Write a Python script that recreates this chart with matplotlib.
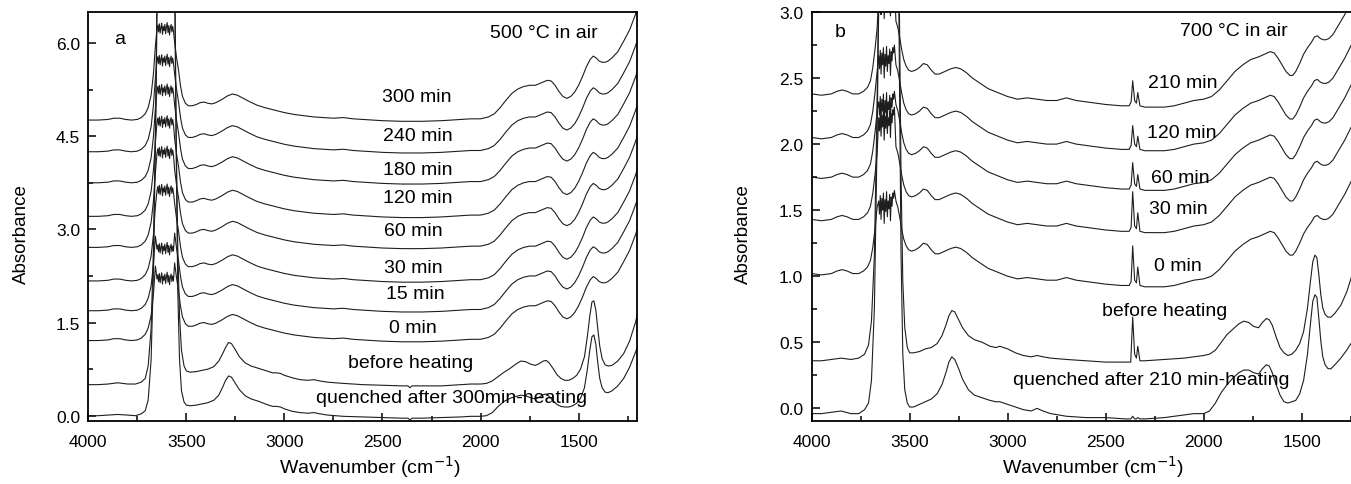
import numpy as np
import matplotlib
matplotlib.use('Agg')
import matplotlib.pyplot as plt
from matplotlib.ticker import MultipleLocator, FormatStrFormatter

plt.rcParams['font.family'] = ['Liberation Sans', 'DejaVu Sans']

# ---------------- panel a : 500 C in air ----------------
a_labels = ['300 min', '240 min', '180 min', '120 min', '60 min', '30 min', '15 min', '0 min']
a_offsets = [4.76, 4.25, 3.75, 3.21, 2.71, 2.17, 1.69, 1.21]
a_plateau = [6.22, 5.71, 5.23, 4.72, 4.23, 3.62, 2.68, 2.20]
a_label_pos = [(2327, 5.14), (2318, 4.51), (2318, 3.96), (2318, 3.52), (2344, 2.98),
               (2344, 2.39), (2335, 1.96), (2344, 1.42)]

# heated spectra (relative to their own baseline)
a_left_wn = [4000, 3950, 3900, 3870, 3840, 3810, 3780, 3750, 3730, 3710, 3695, 3680, 3668, 3658]
a_left = [0.0, 0.0, 0.01, 0.03, 0.03, 0.01, 0.0, 0.01, 0.04, 0.1, 0.2, 0.4, 0.75, 1.2]
a_band_wn = [3650, 3646, 3642, 3638, 3634, 3630, 3626, 3622, 3618, 3614, 3610,
             3606, 3602, 3598, 3594, 3590, 3586, 3582, 3578, 3574, 3570, 3566]
a_ripple = [0.00, 0.07, -0.04, 0.09, -0.06, 0.03, 0.10, -0.08, 0.05, -0.02, 0.08,
            -0.07, 0.04, 0.11, -0.05, 0.06, -0.09, 0.03, 0.08, -0.04, 0.05, -0.03]
a_right_wn = [3560, 3550, 3540, 3530, 3520, 3505, 3490, 3470, 3450, 3430, 3410, 3390,
              3370, 3350, 3320, 3290, 3265, 3240, 3210, 3180, 3140, 3100, 3050, 3000,
              2950, 2900, 2850, 2800, 2750, 2700, 2650, 2600, 2500, 2400, 2300, 2200,
              2100, 2050, 2000, 1960, 1930, 1900, 1870, 1840, 1810, 1780, 1750, 1720,
              1690, 1660, 1640, 1620, 1600, 1580, 1560, 1540, 1520, 1500, 1480, 1460,
              1440, 1425, 1410, 1395, 1380, 1365, 1350, 1330, 1300, 1270, 1240, 1210, 1195]
a_right = [1.25, 1.0, 0.8, 0.55, 0.38, 0.27, 0.23, 0.23, 0.25, 0.28, 0.29, 0.27,
           0.26, 0.28, 0.33, 0.39, 0.42, 0.40, 0.35, 0.30, 0.24, 0.20, 0.16, 0.12,
           0.09, 0.07, 0.05, 0.04, 0.03, 0.04, 0.02, 0.01, -0.01, -0.02, -0.02, -0.01,
           0.01, 0.02, 0.02, 0.05, 0.10, 0.20, 0.32, 0.43, 0.50, 0.54, 0.56, 0.56,
           0.60, 0.64, 0.63, 0.56, 0.46, 0.38, 0.35, 0.38, 0.45, 0.56, 0.70, 0.86,
           0.98, 1.03, 1.00, 0.95, 0.93, 0.93, 0.95, 1.00, 1.10, 1.27, 1.45, 1.70, 1.85]

# before heating / quenched (relative to own baseline)
a_ref_wn = [4000, 3950, 3900, 3850, 3800, 3760, 3730, 3710, 3695, 3680, 3668, 3656, 3648,
            3560, 3552, 3544, 3535, 3525, 3512, 3500, 3480, 3450, 3420, 3390, 3360, 3335,
            3315, 3300, 3285, 3270, 3250, 3230, 3200, 3170, 3130, 3090, 3060, 3040, 3020,
            3000, 2960, 2920, 2880, 2850, 2820, 2780, 2700, 2600, 2500, 2400, 2370, 2360,
            2350, 2300, 2200, 2100, 2050, 2000, 1970, 1940, 1910, 1880, 1850, 1820, 1795,
            1770, 1745, 1720, 1700, 1680, 1665, 1650, 1630, 1610, 1590, 1570, 1550, 1530,
            1510, 1490, 1470, 1455, 1443, 1432, 1422, 1412, 1402, 1392, 1380, 1365, 1350,
            1330, 1300, 1270, 1240, 1210, 1195]
a_before = [0.0, 0.0, 0.01, 0.03, 0.01, 0.01, 0.04, 0.1, 0.3, 0.9, 2.2, 4.5, 7.0,
            7.0, 4.0, 2.2, 1.1, 0.55, 0.3, 0.22, 0.2, 0.21, 0.23, 0.25, 0.29, 0.38,
            0.5, 0.6, 0.68, 0.66, 0.56, 0.45, 0.35, 0.3, 0.26, 0.22, 0.19, 0.19, 0.18,
            0.15, 0.11, 0.08, 0.07, 0.08, 0.06, 0.04, 0.02, 0.0, -0.01, -0.02, -0.02, -0.05,
            -0.02, -0.02, -0.02, 0.0, 0.01, 0.01, 0.02, 0.06, 0.13, 0.2, 0.26, 0.33, 0.38,
            0.37, 0.33, 0.31, 0.34, 0.38, 0.39, 0.35, 0.26, 0.16, 0.1, 0.07, 0.07, 0.1,
            0.15, 0.25, 0.45, 0.78, 1.1, 1.33, 1.35, 1.2, 0.9, 0.62, 0.42, 0.32, 0.3,
            0.31, 0.38, 0.5, 0.7, 1.0, 1.2]
a_quench = [0.0, 0.0, 0.01, 0.02, 0.01, 0.0, 0.03, 0.08, 0.25, 0.9, 2.3, 4.8, 7.0,
            7.0, 4.2, 2.0, 0.9, 0.4, 0.22, 0.17, 0.16, 0.17, 0.19, 0.21, 0.25, 0.33,
            0.46, 0.57, 0.64, 0.62, 0.52, 0.42, 0.32, 0.27, 0.23, 0.18, 0.15, 0.15, 0.14,
            0.11, 0.07, 0.05, 0.04, 0.05, 0.03, 0.01, -0.01, -0.02, -0.03, -0.04, -0.04, -0.07,
            -0.04, -0.04, -0.03, -0.02, -0.01, -0.01, 0.0, 0.05, 0.15, 0.23, 0.28, 0.31, 0.33,
            0.32, 0.29, 0.27, 0.3, 0.34, 0.35, 0.31, 0.24, 0.18, 0.15, 0.14, 0.14, 0.16,
            0.2, 0.28, 0.45, 0.75, 1.05, 1.27, 1.3, 1.15, 0.85, 0.6, 0.45, 0.38, 0.37,
            0.4, 0.48, 0.6, 0.78, 1.02, 1.15]
a_before_offset = 0.50
a_quench_offset = 0.0

# ---------------- panel b : 700 C in air ----------------
b_labels = ['210 min', '120 min', '60 min', '30 min', '0 min']
b_offsets = [2.38, 2.05, 1.75, 1.43, 1.02]
b_plateau = [3.10, 2.65, 2.30, 2.18, 1.55]
b_co2 = [0.19, 0.18, 0.20, 0.30, 0.30]
b_co2_side = [0.06, 0.06, 0.07, 0.10, 0.10]
b_label_pos = [(2105, 2.47), (2110, 2.09), (2121, 1.75), (2130, 1.51), (2130, 1.08)]

b_left_wn = [4000, 3950, 3900, 3870, 3845, 3820, 3790, 3760, 3735, 3715, 3700, 3688, 3676, 3666]
b_left = [0.0, -0.01, 0.0, 0.02, 0.03, 0.02, 0.0, 0.0, 0.02, 0.05, 0.1, 0.2, 0.35, 0.5]
b_band_wn = [3658, 3654, 3650, 3646, 3642, 3638, 3634, 3630, 3626, 3622, 3618,
             3614, 3610, 3606, 3602, 3598, 3594, 3590, 3586, 3582, 3578]
b_ripple = [0.02, -0.08, 0.06, -0.12, 0.04, -0.05, 0.08, -0.15, 0.03, -0.06, 0.09,
            -0.10, 0.02, -0.04, 0.07, -0.13, 0.05, -0.02, 0.08, 0.04, 0.10]
b_right_wn = [3570, 3560, 3550, 3540, 3530, 3518, 3505, 3490, 3470, 3450, 3430, 3410,
              3390, 3370, 3350, 3320, 3290, 3265, 3240, 3210, 3180, 3140, 3100, 3050,
              3000, 2950, 2900, 2850, 2800, 2750, 2700, 2650, 2600, 2500, 2420, 2380,
              2370, 2362, 2352, 2343, 2336, 2325, 2300, 2250, 2200, 2150, 2100, 2050,
              2000, 1960, 1920, 1880, 1840, 1800, 1760, 1720, 1690, 1660, 1640, 1620,
              1600, 1580, 1560, 1545, 1530, 1510, 1490, 1470, 1450, 1435, 1420, 1405,
              1390, 1375, 1360, 1340, 1320, 1300, 1280, 1260, 1240]
b_right = [0.55, 0.5, 0.42, 0.33, 0.26, 0.21, 0.18, 0.17, 0.18, 0.2, 0.23, 0.22,
           0.18, 0.15, 0.15, 0.17, 0.19, 0.2, 0.19, 0.16, 0.12, 0.08, 0.04, 0.01,
           -0.02, -0.04, -0.03, -0.04, -0.05, -0.05, -0.03, -0.05, -0.06, -0.08, -0.09, -0.09,
           -0.06, -0.09, -0.05, -0.07, -0.05, -0.09, -0.1, -0.1, -0.1, -0.09, -0.07, -0.05,
           -0.04, -0.02, 0.03, 0.1, 0.17, 0.22, 0.26, 0.28, 0.3, 0.32, 0.31, 0.27,
           0.22, 0.17, 0.14, 0.14, 0.17, 0.23, 0.3, 0.35, 0.39, 0.43, 0.44, 0.42,
           0.41, 0.41, 0.42, 0.45, 0.5, 0.55, 0.6, 0.66, 0.72]

b_ref_wn = [4000, 3950, 3900, 3850, 3800, 3760, 3730, 3710, 3695, 3680, 3668, 3656, 3648,
            3560, 3552, 3544, 3535, 3525, 3512, 3500, 3480, 3450, 3420, 3390, 3360, 3335,
            3315, 3300, 3285, 3270, 3250, 3230, 3200, 3170, 3130, 3090, 3060, 3040, 3020,
            3000, 2960, 2920, 2880, 2850, 2820, 2780, 2700, 2600, 2500, 2400, 2372, 2362,
            2352, 2343, 2336, 2325, 2300, 2200, 2100, 2050, 2000, 1970, 1940, 1910, 1880,
            1850, 1820, 1795, 1770, 1745, 1720, 1700, 1680, 1665, 1650, 1630, 1610, 1590,
            1570, 1550, 1530, 1510, 1490, 1470, 1455, 1443, 1432, 1422, 1412, 1402, 1392,
            1380, 1365, 1350, 1330, 1300, 1270, 1240]
b_before = [0.0, 0.0, 0.01, 0.02, 0.01, 0.02, 0.05, 0.12, 0.3, 0.8, 1.8, 3.0, 4.0,
            4.0, 2.6, 1.4, 0.6, 0.25, 0.1, 0.06, 0.06, 0.07, 0.09, 0.1, 0.13, 0.19,
            0.27, 0.34, 0.38, 0.37, 0.31, 0.25, 0.19, 0.16, 0.14, 0.11, 0.1, 0.11, 0.1,
            0.09, 0.06, 0.04, 0.03, 0.04, 0.03, 0.02, 0.01, 0.0, -0.01, -0.01, -0.01, 0.33,
            0.05, 0.02, 0.11, 0.0, 0.0, 0.01, 0.02, 0.03, 0.04, 0.05, 0.08, 0.14, 0.2,
            0.24, 0.28, 0.3, 0.29, 0.26, 0.25, 0.29, 0.32, 0.31, 0.27, 0.18, 0.1, 0.06,
            0.04, 0.05, 0.08, 0.13, 0.22, 0.4, 0.6, 0.75, 0.8, 0.78, 0.65, 0.5, 0.4,
            0.35, 0.33, 0.33, 0.36, 0.42, 0.52, 0.66]
b_quench = [0.0, 0.0, 0.01, 0.02, 0.0, 0.0, 0.03, 0.08, 0.25, 0.8, 1.9, 3.3, 4.0,
            4.0, 2.5, 1.2, 0.45, 0.18, 0.08, 0.05, 0.05, 0.07, 0.09, 0.11, 0.15, 0.22,
            0.31, 0.39, 0.43, 0.41, 0.34, 0.26, 0.18, 0.14, 0.12, 0.1, 0.09, 0.09, 0.08,
            0.07, 0.05, 0.03, 0.02, 0.04, 0.02, 0.0, -0.02, -0.03, -0.03, -0.04, -0.04, -0.02,
            -0.04, -0.04, -0.03, -0.04, -0.04, -0.03, -0.01, 0.0, 0.0, 0.02, 0.08, 0.16, 0.22,
            0.27, 0.31, 0.33, 0.33, 0.31, 0.3, 0.34, 0.37, 0.36, 0.31, 0.22, 0.14, 0.09,
            0.08, 0.09, 0.1, 0.15, 0.25, 0.45, 0.68, 0.85, 0.9, 0.88, 0.72, 0.55, 0.43,
            0.37, 0.34, 0.34, 0.37, 0.42, 0.48, 0.55]
b_before_offset = 0.36
b_quench_offset = -0.04

LINE = '#1e1e1e'
FS_TICK = 12.5
FS_TXT = 14


def heated(left_wn, left, band_wn, ripple, right_wn, right, offset, plateau):
    wn = list(left_wn) + list(band_wn) + list(right_wn)
    y = [offset + v for v in left] + [plateau + r for r in ripple] + [offset + v for v in right]
    return wn, y


def style_axes(ax, xlim, ylim, ymajor, yminor):
    ax.set_xlim(*xlim)
    ax.set_ylim(*ylim)
    ax.xaxis.set_major_locator(MultipleLocator(500))
    ax.xaxis.set_minor_locator(MultipleLocator(250))
    ax.yaxis.set_major_locator(MultipleLocator(ymajor))
    ax.yaxis.set_minor_locator(MultipleLocator(yminor))
    ax.yaxis.set_major_formatter(FormatStrFormatter('%.1f'))
    ax.tick_params(which='both', direction='in', top=False, right=False,
                   width=1.1, labelsize=FS_TICK)
    ax.tick_params(which='major', length=6)
    ax.tick_params(which='minor', length=3.5)
    ax.tick_params(axis='x', pad=9)
    ax.tick_params(axis='y', pad=6)
    for s in ax.spines.values():
        s.set_linewidth(1.3)
    ax.set_xlabel('Wavenumber (cm$^{-1}$)', fontsize=14)
    ax.set_ylabel('Absorbance', fontsize=13.5)


fig = plt.figure(figsize=(13.51, 4.85), dpi=100)
ax_a = fig.add_axes([0.0654, 0.1293, 0.4064, 0.8439])
ax_b = fig.add_axes([0.6008, 0.1293, 0.3992, 0.8439])

# panel a
for off, plat in zip(a_offsets, a_plateau):
    wn, y = heated(a_left_wn, a_left, a_band_wn, a_ripple, a_right_wn, a_right, off, plat)
    ax_a.plot(wn, y, color=LINE, lw=0.8)
ax_a.plot(a_ref_wn, [a_before_offset + v for v in a_before], color=LINE, lw=0.8)
ax_a.plot(a_ref_wn, [a_quench_offset + v for v in a_quench], color=LINE, lw=0.8)

style_axes(ax_a, (4000, 1200), (-0.09, 6.5), 1.5, 0.75)
ax_a.xaxis.set_label_coords(0.513, -0.078)
ax_a.yaxis.set_label_coords(-0.106, 0.46)

for lab, (x, y) in zip(a_labels, a_label_pos):
    ax_a.text(x, y, lab, fontsize=FS_TXT, ha='center', va='center')
ax_a.text(2354, 0.86, 'before heating', fontsize=FS_TXT, ha='center', va='center')
ax_a.text(2150, 0.30, 'quenched after 300min-heating', fontsize=FS_TXT, ha='center', va='center')
ax_a.text(3838, 6.08, 'a', fontsize=FS_TXT, ha='center', va='center')
ax_a.text(1679, 6.17, '500 °C in air', fontsize=FS_TXT, ha='center', va='center')

# panel b
for off, plat, c1, c2 in zip(b_offsets, b_plateau, b_co2, b_co2_side):
    wn, y = heated(b_left_wn, b_left, b_band_wn, b_ripple, b_right_wn, b_right, off, plat)
    i1 = wn.index(2362)
    i2 = wn.index(2336)
    y[i1] += c1
    y[i2] += c2
    ax_b.plot(wn, y, color=LINE, lw=0.8)
ax_b.plot(b_ref_wn, [b_before_offset + v for v in b_before], color=LINE, lw=0.8)
ax_b.plot(b_ref_wn, [b_quench_offset + v for v in b_quench], color=LINE, lw=0.8)

style_axes(ax_b, (4000, 1248), (-0.098, 3.0), 0.5, 0.25)
ax_b.spines['right'].set_visible(False)
ax_b.xaxis.set_label_coords(0.522, -0.078)
ax_b.yaxis.set_label_coords(-0.111, 0.46)

for lab, (x, y) in zip(b_labels, b_label_pos):
    ax_b.text(x, y, lab, fontsize=FS_TXT, ha='center', va='center')
ax_b.text(2199, 0.74, 'before heating', fontsize=FS_TXT, ha='center', va='center')
ax_b.text(2268, 0.22, 'quenched after 210 min-heating', fontsize=FS_TXT, ha='center', va='center')
ax_b.text(3856, 2.85, 'b', fontsize=FS_TXT, ha='center', va='center')
ax_b.text(1845, 2.86, '700 °C in air', fontsize=FS_TXT, ha='center', va='center')

fig.savefig('out.png', dpi=100)
